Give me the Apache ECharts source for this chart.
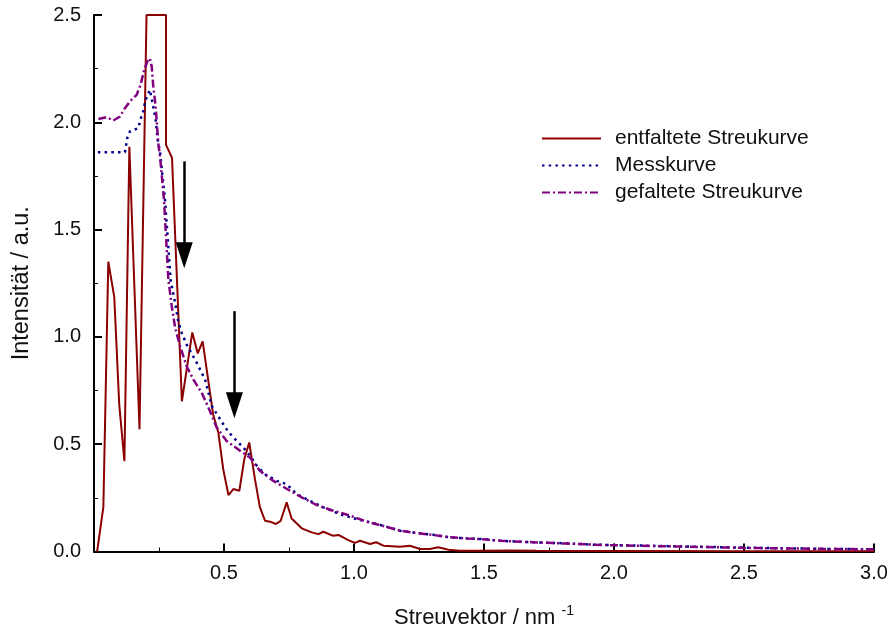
<!DOCTYPE html>
<html>
<head>
<meta charset="utf-8">
<script src="https://cdn.jsdelivr.net/npm/echarts@6/dist/echarts.min.js"></script>
<style>
  html, body { margin: 0; padding: 0; background: #fff; }
  #chart { width: 895px; height: 634px; }
</style>
</head>
<body>
<div id="chart"></div>
<script>
// entfaltete Streukurve
var redX = [0.012, 0.036, 0.055, 0.078, 0.097, 0.117, 0.136, 0.175, 0.202, 0.277, 0.277, 0.300, 0.338, 0.378, 0.399, 0.418, 0.458, 0.478, 0.497, 0.517, 0.536, 0.559, 0.578, 0.597, 0.619, 0.638, 0.658, 0.677, 0.700, 0.718, 0.741, 0.760, 0.799, 0.837, 0.863, 0.882, 0.920, 0.940, 0.978, 1.004, 1.023, 1.062, 1.085, 1.113, 1.177, 1.215, 1.254, 1.292, 1.324, 1.363, 1.408, 1.5, 1.6, 1.7, 1.8, 2.0, 2.5, 3.0];
var redY = [0.000, 0.207, 1.350, 1.185, 0.686, 0.421, 1.886, 0.570, 2.500, 2.500, 1.895, 1.835, 0.700, 1.021, 0.923, 0.979, 0.640, 0.556, 0.384, 0.263, 0.291, 0.283, 0.430, 0.508, 0.337, 0.207, 0.143, 0.139, 0.128, 0.143, 0.229, 0.154, 0.108, 0.089, 0.081, 0.092, 0.073, 0.077, 0.053, 0.040, 0.050, 0.035, 0.043, 0.027, 0.022, 0.027, 0.012, 0.012, 0.020, 0.008, 0.003, 0.003, 0.005, 0.003, 0.002, 0.002, 0.001, 0.001];

// Messkurve
var blueX = [0.015, 0.119, 0.128, 0.138, 0.170, 0.183, 0.192, 0.196, 0.205, 0.215, 0.228, 0.238, 0.245, 0.254, 0.273, 0.295, 0.312, 0.324, 0.337, 0.356, 0.395, 0.427, 0.453, 0.485, 0.510, 0.530, 0.574, 0.600, 0.626, 0.658, 0.703, 0.741, 0.780, 0.831, 0.882, 0.946, 1.010, 1.062, 1.113, 1.177, 1.241, 1.305, 1.369, 1.433, 1.497, 1.562, 1.690, 1.818, 1.920, 2.000, 2.250, 2.500, 2.750, 3.000];
var blueY = [1.861, 1.861, 1.927, 1.957, 1.973, 2.030, 2.061, 2.097, 2.123, 2.151, 2.073, 2.004, 1.919, 1.860, 1.640, 1.260, 1.159, 1.073, 1.020, 0.965, 0.880, 0.802, 0.678, 0.616, 0.570, 0.539, 0.485, 0.446, 0.400, 0.360, 0.329, 0.314, 0.267, 0.236, 0.206, 0.174, 0.151, 0.136, 0.120, 0.097, 0.086, 0.078, 0.066, 0.061, 0.058, 0.050, 0.043, 0.038, 0.032, 0.030, 0.024, 0.018, 0.013, 0.010];

// gefaltete Streukurve
var purpleX = [0.017, 0.049, 0.074, 0.100, 0.119, 0.138, 0.164, 0.179, 0.193, 0.205, 0.215, 0.222, 0.228, 0.235, 0.241, 0.247, 0.254, 0.269, 0.286, 0.299, 0.312, 0.331, 0.356, 0.382, 0.414, 0.440, 0.472, 0.510, 0.562, 0.600, 0.638, 0.690, 0.754, 0.799, 0.857, 0.920, 0.985, 1.049, 1.113, 1.177, 1.241, 1.305, 1.369, 1.433, 1.497, 1.562, 1.690, 1.818, 1.920, 2.000, 2.250, 2.500, 2.750, 3.000];
var purpleY = [2.015, 2.024, 2.008, 2.027, 2.066, 2.097, 2.128, 2.174, 2.244, 2.283, 2.298, 2.260, 2.167, 2.097, 2.012, 1.903, 1.841, 1.640, 1.267, 1.143, 1.043, 0.957, 0.864, 0.802, 0.740, 0.671, 0.578, 0.515, 0.469, 0.438, 0.376, 0.329, 0.283, 0.252, 0.216, 0.190, 0.167, 0.139, 0.119, 0.097, 0.086, 0.077, 0.066, 0.061, 0.057, 0.050, 0.043, 0.037, 0.032, 0.029, 0.023, 0.017, 0.013, 0.010];

// Pfeile (x, Start, Ende)
var arrowX = [0.347, 0.540];
var arrowFrom = [1.818, 1.120];
var arrowTo = [1.381, 0.682];

var seriesNames = ['entfaltete Streukurve', 'Messkurve', 'gefaltete Streukurve'];

function pairs(xs, ys) {
  var out = [];
  for (var i = 0; i < xs.length; i++) out.push([xs[i], ys[i]]);
  return out;
}

var arrows = [];
for (var i = 0; i < arrowX.length; i++) {
  arrows.push([{ coord: [arrowX[i], arrowFrom[i]] }, { coord: [arrowX[i], arrowTo[i]] }]);
}

var font = 'Liberation Sans';
var myChart = echarts.init(document.getElementById('chart'));
var option = {
  animation: false,
  textStyle: { fontFamily: font, color: '#000' },
  grid: { left: 94, right: 21, top: 15, bottom: 81.5 },
  legend: {
    orient: 'vertical',
    left: 536,
    top: 123,
    itemWidth: 59,
    itemHeight: 14,
    itemGap: 6,
    itemStyle: { opacity: 0 },
    textStyle: { fontFamily: font, fontSize: 21, color: '#111', lineHeight: 21, padding: [0, 0, 0, 9] },
    data: seriesNames
  },
  xAxis: {
    type: 'value',
    min: 0,
    max: 3,
    interval: 0.5,
    name: '{n|Streuvektor / nm }{s|-1}',
    nameLocation: 'middle',
    nameGap: 53,
    nameTextStyle: {
      rich: {
        n: { fontFamily: font, fontSize: 22, color: '#111' },
        s: { fontFamily: font, fontSize: 14, color: '#111', padding: [0, 0, 13, 0] }
      }
    },
    splitLine: { show: false },
    axisLine: { lineStyle: { color: '#000', width: 2 } },
    axisTick: { inside: true, length: 8, lineStyle: { color: '#000', width: 2 } },
    minorTick: { show: true, splitNumber: 2, length: 4, lineStyle: { color: '#000', width: 1 } },
    axisLabel: {
      margin: 12,
      fontSize: 20,
      color: '#111',
      fontFamily: font,
      formatter: function (v) { return v === 0 ? '' : v.toFixed(1); }
    }
  },
  yAxis: {
    type: 'value',
    min: 0,
    max: 2.5,
    interval: 0.5,
    name: 'Intensität / a.u.',
    nameLocation: 'middle',
    nameGap: 60,
    nameTextStyle: { fontFamily: font, fontSize: 23.5, color: '#111' },
    splitLine: { show: false },
    axisLine: { show: true, lineStyle: { color: '#000', width: 2 } },
    axisTick: { show: true, inside: true, length: 8, lineStyle: { color: '#000', width: 2 } },
    minorTick: { show: true, splitNumber: 2, length: 4, lineStyle: { color: '#000', width: 1 } },
    axisLabel: {
      margin: 13,
      fontSize: 20,
      color: '#111',
      fontFamily: font,
      formatter: function (v) { return v.toFixed(1); }
    }
  },
  series: [
    {
      name: seriesNames[0],
      type: 'line',
      symbol: 'none',
      data: pairs(redX, redY),
      lineStyle: { color: '#8b0000', width: 2 },
      itemStyle: { color: '#8b0000' },
      markLine: {
        silent: true,
        symbol: ['none', 'triangle'],
        symbolSize: [17, 26],
        label: { show: false },
        lineStyle: { color: '#000', width: 2.5, type: 'solid' },
        itemStyle: { color: '#000' },
        emphasis: { disabled: true },
        data: arrows
      }
    },
    {
      name: seriesNames[1],
      type: 'line',
      symbol: 'none',
      data: pairs(blueX, blueY),
      lineStyle: { color: '#00008b', width: 2.5, type: [2.5, 4.2] },
      itemStyle: { color: '#00008b' }
    },
    {
      name: seriesNames[2],
      type: 'line',
      symbol: 'none',
      data: pairs(purpleX, purpleY),
      lineStyle: { color: '#800080', width: 2.5, type: [8, 3, 2, 3] },
      itemStyle: { color: '#800080' }
    }
  ]
};
myChart.setOption(option);
</script>
</body>
</html>
